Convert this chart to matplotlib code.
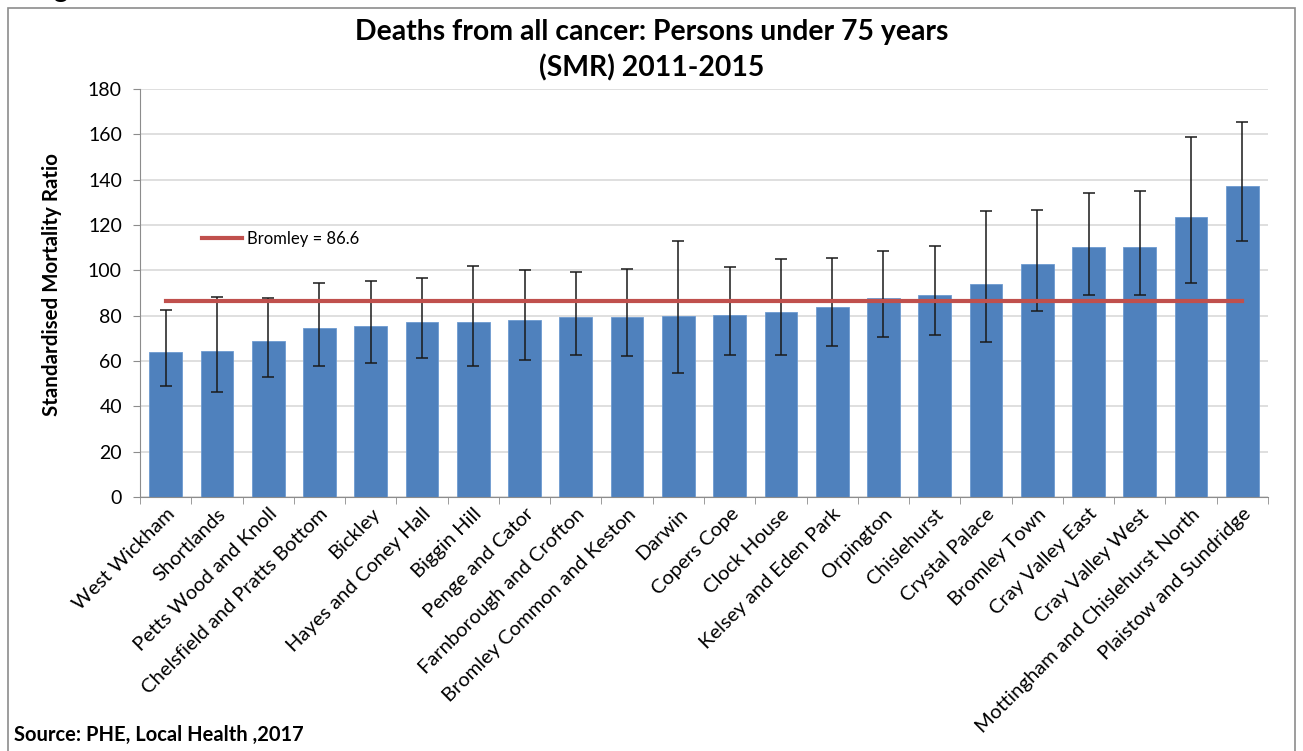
import matplotlib.pyplot as plt
import numpy as np

# Ward names, ordered by SMR
wards = [
    'West Wickham', 'Shortlands', 'Petts Wood and Knoll', 'Chelsfield and Pratts Bottom',
    'Bickley', 'Hayes and Coney Hall', 'Biggin Hill', 'Penge and Cator',
    'Farnborough and Crofton', 'Bromley Common and Keston', 'Darwin', 'Copers Cope',
    'Clock House', 'Kelsey and Eden Park', 'Orpington', 'Chislehurst', 'Crystal Palace',
    'Bromley Town', 'Cray Valley East', 'Cray Valley West',
    'Mottingham and Chislehurst North', 'Plaistow and Sundridge',
]
smr = [64.1, 64.6, 68.7, 74.4, 75.3, 77.1, 77.1, 78.1, 79.4, 79.4, 79.9,
       80.3, 81.8, 84.0, 87.8, 89.1, 93.8, 102.6, 110.3, 110.3, 123.5, 137.1]
ci_low = [49.1, 46.3, 52.8, 57.9, 59.0, 61.2, 57.9, 60.4, 62.6, 62.2, 54.7,
          62.6, 62.6, 66.8, 70.4, 71.3, 68.2, 82.1, 89.1, 89.1, 94.6, 112.8]
ci_high = [82.5, 88.4, 87.8, 94.3, 95.1, 96.6, 101.9, 100.1, 99.3, 100.6, 112.8,
           101.6, 104.9, 105.3, 108.7, 110.9, 126.3, 126.8, 134.3, 135.1, 159.0, 165.4]
bromley = 86.6

fig = plt.figure(figsize=(13.03, 7.51), dpi=100)
plt.rcParams['font.family'] = ['Lato', 'DejaVu Sans']

# outer frame like the pasted Excel chart
fig.patches.append(plt.Rectangle((8 / 1303, -0.01), 1287 / 1303, 1 - 8 / 751 + 0.01,
                                 transform=fig.transFigure, fill=False,
                                 edgecolor='#8c8c8c', linewidth=1.2))
fig.text(0.024, 1.014, 'Figure', fontsize=20, fontweight='bold', va='center')

ax = fig.add_axes([140 / 1303, 1 - 497 / 751, 1128 / 1303, 408 / 751])

x = np.arange(len(wards))
smr = np.array(smr)
yerr = [smr - np.array(ci_low), np.array(ci_high) - smr]
ax.bar(x, smr, width=0.64, color='#4F81BD', edgecolor='#6d9ad0', linewidth=0.6, zorder=2)
ax.errorbar(x, smr, yerr=yerr, fmt='none', ecolor='#1a1a1a', elinewidth=1.1,
            capsize=4, capthick=1.1, zorder=3)
ax.plot([x[0], x[-1]], [bromley, bromley], color='#C0504D', linewidth=3,
        label='Bromley = 86.6', zorder=4)

ax.set_xlim(-0.5, len(wards) - 0.5)
ax.set_ylim(0, 180)
ax.set_yticks(np.arange(0, 181, 20))
ax.tick_params(axis='y', labelsize=14, length=5, color='#8c8c8c', pad=8)
ax.yaxis.grid(True, color='#d9d9d9', linewidth=1.2, zorder=0)
ax.set_axisbelow(True)

ax.set_xticks(x)
ax.set_xticklabels(wards, rotation=45, ha='right', rotation_mode='anchor', fontsize=14.5)
ax.tick_params(axis='x', length=0, pad=6)
ax.set_xticks(np.arange(-0.5, len(wards), 1), minor=True)
ax.tick_params(axis='x', which='minor', length=5, color='#8c8c8c')

for side in ['top', 'right']:
    ax.spines[side].set_visible(False)
for side in ['left', 'bottom']:
    ax.spines[side].set_color('#8c8c8c')

ax.set_ylabel('Standardised Mortality Ratio', fontsize=14.8, fontweight='bold')
ax.yaxis.set_label_coords(-0.069, 0.52)

ax.legend(loc='center left', bbox_to_anchor=(0.042, 0.632), frameon=False,
          fontsize=12, handlelength=2.4, handletextpad=0.3)

fig.text(0.5, 1 - 32 / 751, 'Deaths from all cancer: Persons under 75 years',
         ha='center', va='center', fontsize=20.4, fontweight='bold')
fig.text(0.5, 1 - 68 / 751, '(SMR) 2011-2015',
         ha='center', va='center', fontsize=20.4, fontweight='bold')
fig.text(14 / 1303, 1 - 735 / 751, 'Source: PHE, Local Health ,2017',
         ha='left', va='center', fontsize=14.5, fontweight='bold')

fig.savefig('out.png', dpi=100)
